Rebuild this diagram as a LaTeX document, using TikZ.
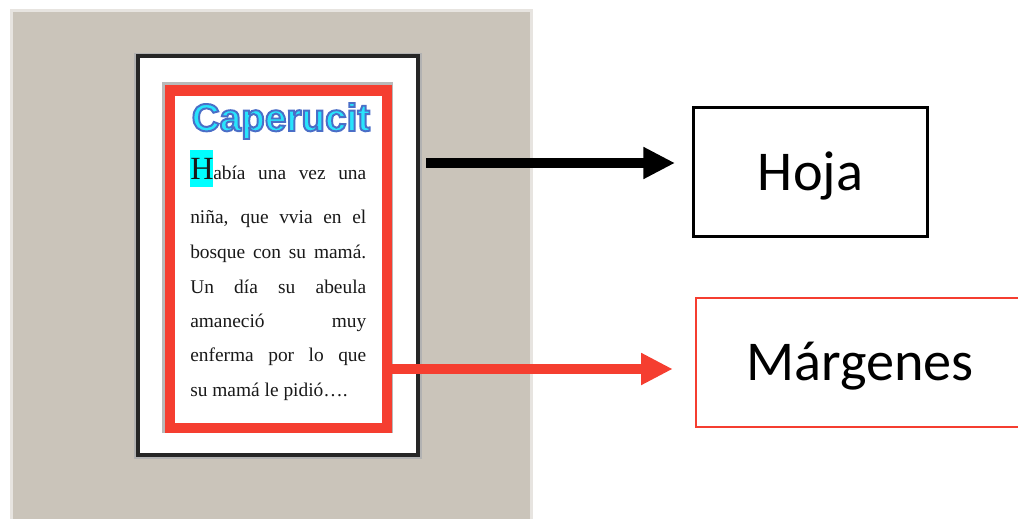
\documentclass[tikz,border=0pt]{standalone}
\usepackage{fontspec}
\setmainfont{Liberation Serif}
\newfontfamily\calibrifont{Carlito}
\newfontface\titlefont[FakeBold=5]{Liberation Sans Bold}
\usetikzlibrary{arrows.meta, positioning, calc}

\newlength\pix
\setlength\pix{0.025cm}

\definecolor{bgtaupe}{RGB}{202,196,186}
\definecolor{margred}{RGB}{245,62,48}
\definecolor{hlcyan}{RGB}{0,255,255}
\definecolor{titlecyan}{RGB}{40,228,252}
% stroke colour of the title outline (0.29 0.43 0.78 = RGB 74,110,200)
\newcommand\titlestroke{\special{pdf:literal direct 0.29 0.43 0.78 RG}}

\tikzset{
  pagebox/.style={draw=black!85, line width=4\pix, fill=white, inner sep=0pt,
    preaction={draw=gray!60, line width=7\pix}},
  marginbox/.style={draw=margred, line width=10\pix, fill=white, inner sep=0pt},
  labelbox/.style={inner sep=0pt, text height=26pt, text depth=0pt,
    font=\calibrifont\fontsize{40}{48}\selectfont},
  textline/.style={anchor=base west, inner sep=0pt,
    font=\fontsize{13.8}{16}\selectfont, text=black!90},
  bigarrow/.style={line width=10\pix, -{Triangle[length=22.5pt, width=21.3pt]}},
}

\begin{document}
\begin{tikzpicture}[x=0.025cm, y=-0.025cm]

\useasboundingbox (0,0) rectangle (1018,519);
\clip (0,0) rectangle (1018,519);

% Background of the screenshot
\fill[bgtaupe] (10,10) rectangle (532,519);
\draw[bgtaupe!45!white, line width=3\pix] (11,519) -- (11,11) -- (531,11) -- (531,519);

% Page
\node[pagebox, minimum width=280.5\pix, minimum height=398.5\pix] (page) at (277.75,255.75) {};

% Margins
\fill[gray!55] (162,82) rectangle (393,433);
\node[marginbox, minimum width=217\pix, minimum height=337\pix] (margin) at (278.5,259) {};

% Title
\node[anchor=base, inner sep=0pt, text=titlecyan,
      font=\titlefont\fontsize{27.5}{30}\selectfont] (title) at (281,131)
    {\titlestroke Caperucit};

% Story text
\fill[hlcyan] (190,150) rectangle (213,187);
\node[textline, font=\fontsize{23}{26}\selectfont] (capH) at (190,179) {H};
\node[textline] (line1) at (213,179) {\makebox[153\pix][s]{abía una vez una}};
\node[textline] (line2) at (190,223) {\makebox[176\pix][s]{niña, que vvia en el}};
\node[textline] (line3) at (190,258) {\makebox[176\pix][s]{bosque con su mamá.}};
\node[textline] (line4) at (190,293) {\makebox[176\pix][s]{Un día su abeula}};
\node[textline] (line5) at (190,327) {\makebox[176\pix][s]{amaneció muy}};
\node[textline] (line6) at (190,361) {\makebox[176\pix][s]{enferma por lo que}};
\node[textline] (line7) at (190,396) {su mamá le pidió….};

% Labels
\node[labelbox, draw=black, line width=3\pix, minimum width=234\pix, minimum height=129\pix]
    (hoja) at (810.5,172) {Hoja};
\node[labelbox, draw=margred, line width=2.5\pix, minimum width=328\pix, minimum height=129\pix]
    (margenes) at (860,362.5) {Márgenes};

% Arrows
\coordinate (hojafrom) at (426,163);
\coordinate (margrow) at (0,369);
\draw[bigarrow, draw=black, shorten >=17\pix] (hojafrom) -- (hojafrom -| hoja.west);
\draw[bigarrow, draw=margred, shorten >=22\pix] (margin.east |- margrow) -- (margrow -| margenes.west);

\end{tikzpicture}
\end{document}
